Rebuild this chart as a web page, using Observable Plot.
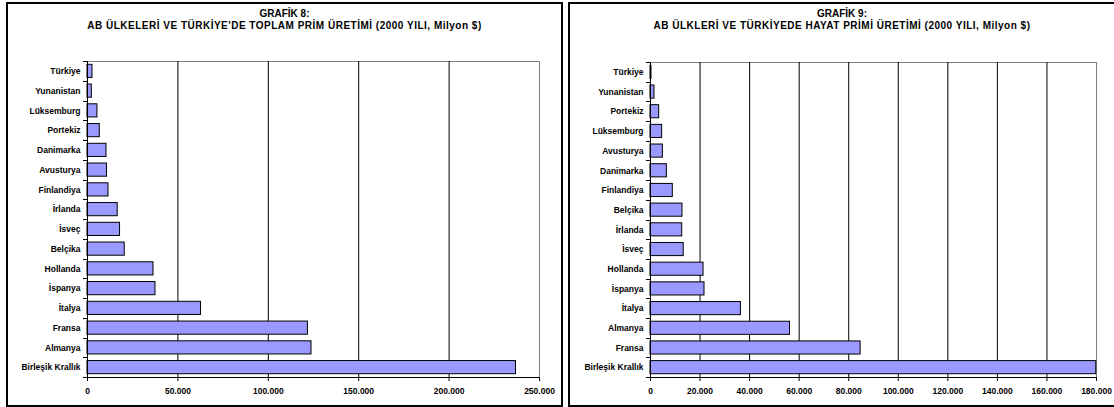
<!DOCTYPE html>
<html><head><meta charset="utf-8">
<script src="https://cdn.jsdelivr.net/npm/d3@7"></script>
<script src="https://cdn.jsdelivr.net/npm/@observablehq/plot@0.6"></script>
<style>
body{margin:0;background:#fff;font-family:"Liberation Sans",Arial,sans-serif;}
.panel{position:absolute;box-sizing:border-box;border:2px solid #000;}
.title{position:absolute;text-align:center;font-weight:bold;font-size:10px;line-height:12px;color:#000;}
.title span{letter-spacing:0.5px;}
.chart{position:absolute;}
</style></head><body>
<div class="panel" style="left:6px;top:2px;width:557px;height:405px"></div>
<div class="panel" style="left:568px;top:2px;width:548px;height:405px"></div>
<div class="title" style="left:6px;width:557px;top:8px">GRAFİK 8:<br><span>AB ÜLKELERİ VE TÜRKİYE'DE TOPLAM PRİM ÜRETİMİ (2000 YILI, Milyon $)</span></div>
<div class="title" style="left:568px;width:548px;top:8px">GRAFİK 9:<br><span>AB ÜLKLERİ VE TÜRKİYEDE HAYAT PRİMİ ÜRETİMİ (2000 YILI, Milyon $)</span></div>
<div id="c1" class="chart" style="left:7px;top:3px"></div>
<div id="c2" class="chart" style="left:569px;top:3px"></div>
<script>
const countries1 = ["Türkiye","Yunanistan","Lüksemburg","Portekiz","Danimarka","Avusturya","Finlandiya","İrlanda","İsveç","Belçika","Hollanda","İspanya","İtalya","Fransa","Almanya","Birleşik Krallık"];
const values1 = [2760,2400,5500,6800,10500,10800,11600,16700,18000,20600,36500,37600,62800,121900,123900,237000];
const ticks1 = [0,50000,100000,150000,200000,250000];

const countries2 = ["Türkiye","Yunanistan","Portekiz","Lüksemburg","Avusturya","Danimarka","Finlandiya","Belçika","İrlanda","İsveç","Hollanda","İspanya","İtalya","Almanya","Fransa","Birleşik Krallık"];
const values2 = [400,1600,3500,4700,5000,6600,9000,12900,12800,13400,21400,21800,36500,56300,84800,179900];
const ticks2 = [0,20000,40000,60000,80000,100000,120000,140000,160000,180000];

const fmt = d => d3.format(",")(d).replace(/,/g, ".");

function makeChart(countries, values, ticks, o) {
  const data = countries.map((c, i) => ({country: c, value: values[i]}));
  const max = ticks[ticks.length - 1];
  const plot = Plot.plot({
    width: o.width, height: o.height,
    marginLeft: o.ml, marginRight: o.mr, marginTop: o.mt, marginBottom: o.mb,
    style: {fontFamily: "'Liberation Sans', Arial, sans-serif", fontSize: "8.5px", fontWeight: "bold", color: "#000", background: "transparent", overflow: "visible"},
    x: {domain: [0, max], label: null},
    y: {domain: countries, paddingInner: 1/3, paddingOuter: 1/6, round: false, label: null},
    marks: [
      Plot.frame({stroke: "#808080"}),
      Plot.ruleX(ticks.slice(1, -1), {stroke: "#000"}),
      Plot.barX(data, {x: "value", y: "country", fill: "#9999FF", stroke: "#000", strokeWidth: 1}),
      Plot.ruleX([0], {stroke: "#000"}),
      Plot.axisY({tickSize: 0, tickPadding: 7, letterSpacing: "0.45px"}),
      Plot.axisX({ticks: ticks, tickFormat: fmt, tickSize: 4, tickPadding: 6, stroke: "#000", letterSpacing: "0.2px"})
    ]
  });
  const svg = d3.select(plot);
  const x = plot.scale("x"), y = plot.scale("y");
  const x0 = x.apply(0), x1 = x.apply(max);
  const gap = (y.step - y.bandwidth) / 2;
  const bounds = countries.map(c => y.apply(c) - gap);
  bounds.push(y.apply(countries[countries.length - 1]) + y.bandwidth + gap);
  const g = svg.append("g").attr("stroke", "#000").attr("stroke-width", 1);
  bounds.forEach(b => {
    const yy = Math.round(b) + 0.5;
    g.append("line").attr("x1", x0 - 4).attr("x2", x0).attr("y1", yy).attr("y2", yy);
  });
  const yb = o.height - o.mb + 0.5;
  g.append("line").attr("x1", x0).attr("x2", x1 + 0.5).attr("y1", yb).attr("y2", yb);
  return plot;
}

document.getElementById("c1").append(makeChart(countries1, values1, ticks1, {width: 555, height: 403, ml: 80, mr: 23, mt: 58, mb: 29}));
document.getElementById("c2").append(makeChart(countries2, values2, ticks2, {width: 545, height: 403, ml: 81, mr: 18, mt: 59, mb: 29}));
</script>
</body></html>
